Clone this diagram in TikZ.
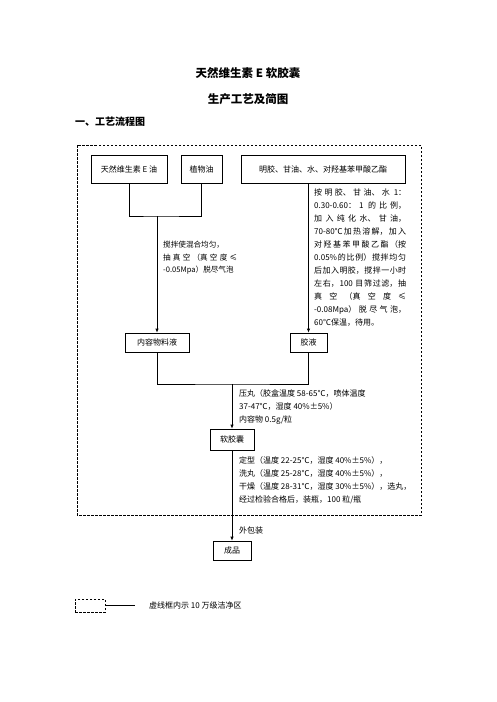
\documentclass[tikz,border=0pt]{standalone}
\usepackage{fontspec}
\newfontfamily\cjk{Noto Sans CJK SC}
\usetikzlibrary{positioning}
\usetikzlibrary{arrows.meta}
\XeTeXlinebreaklocale "zh"
\XeTeXlinebreakskip=0pt plus 1pt
\tolerance=10000
\hbadness=10000

\begin{document}
\begin{tikzpicture}[x=1pt, y=-1pt,
    box/.style={draw, rectangle, line width=0.7pt, inner sep=0pt, font=\cjk\fontsize{8}{10}\selectfont},
    note/.style={anchor=north west, inner sep=0pt, font=\cjk\fontsize{8}{13}\selectfont},
    line/.style={line width=0.7pt},
    >={Latex[length=4pt,width=3.5pt]}]
    \useasboundingbox (0,0) rectangle (496,702);

    % titles
    \node[font=\cjk\bfseries\fontsize{11.5}{12}\selectfont] (title) at (248,73) {天然维生素 E 软胶囊};
    \node[font=\cjk\bfseries\fontsize{11.5}{12}\selectfont] (subtitle) at (248,99) {生产工艺及简图};
    \node[font=\cjk\bfseries\fontsize{10}{12}\selectfont, anchor=west, inner sep=0pt] (section) at (75,122) {一、工艺流程图};

    % clean area
    \draw[line, dash pattern=on 2.5pt off 1.5pt] (77,145) rectangle (421,515);

    % boxes
    \node[box, minimum width=76pt, minimum height=28pt] (vitamin) at (129,169) {天然维生素 E 油};
    \node[box, minimum width=41pt, minimum height=28pt] (plantoil) at (201.5,169) {植物油};
    \node[box, minimum width=164pt, minimum height=28pt] (gelatin) at (323,169) {明胶、甘油、水、对羟基苯甲酸乙酯};
    \node[box, minimum width=64pt, minimum height=19pt] (filling) at (157,342.5) {内容物料液};
    \node[box, minimum width=37pt, minimum height=19pt] (gelliquid) at (308.5,342.5) {胶液};
    \node[box, minimum width=44pt, minimum height=21pt] (capsule) at (232,439.5) {软胶囊};
    \node[box, minimum width=38pt, minimum height=19pt] (product) at (232,550.5) {成品};

    \coordinate (mixtop) at (157,216);
    \coordinate (mixbottom) at (232,384);

    \draw[line] (vitamin.south) |- (mixtop) -| (plantoil.south);
    \draw[line,->] (mixtop) -- (filling.north);
    \draw[line,->] (gelliquid.north |- gelatin.south) -- (gelliquid.north);
    \draw[line] (filling.south) |- (mixbottom) -| (gelliquid.south);
    \draw[line,->] (mixbottom) -- (capsule.north);
    \draw[line,->] (capsule.south) -- (product.north);

    % notes
    \node[note, text width=74pt, align=justify, font=\cjk\fontsize{7.6}{12.5}\selectfont] (mixnote) at (163,241)
        {搅拌使混合均匀，\\抽真空（真空度≤\linebreak -0.05Mpa）脱尽气泡};
    \node[note, text width=92pt, align=justify] (gelnote) at (314,189)
        {按明胶、甘油、水 1：\linebreak 0.30-0.60：1 的比例，\linebreak 加入纯化水、甘油，\linebreak 70-80℃加热溶解，加入\linebreak 对羟基苯甲酸乙酯（按\linebreak 0.05\%的比例）搅拌均匀\linebreak 后加入明胶，搅拌一小时\linebreak 左右，100 目筛过滤，抽\linebreak 真空（真空度≤\linebreak -0.08Mpa）脱尽气泡，\linebreak 60℃保温，待用。};
    \node[note, align=left] (pressnote) at (239,389)
        {压丸（胶盒温度 58-65℃，喷体温度\\37-47℃，湿度 40\%±5\%）\\内容物 0.5g/粒};
    \node[note, align=left] (dryingnote) at (239,456)
        {定型（温度 22-25℃，湿度 40\%±5\%），\\洗丸（温度 25-28℃，湿度 40\%±5\%），\\干燥（温度 28-31℃，湿度 30\%±5\%），选丸，\\经过检验合格后，装瓶，100 粒/瓶};
    \node[note, anchor=west] (packnote) at (239,530) {外包装};

    % legend
    \node[draw, line width=0.7pt, dash pattern=on 2.5pt off 1.5pt, minimum width=30pt, minimum height=13pt, inner sep=0pt] (legendbox) at (90,605.5) {};
    \coordinate (legendend) at (135,605.5);
    \draw[line] (legendbox.east) -- (legendend);
    \node[note, anchor=west] (legendtext) at (149,605.5) {虚线框内示 10 万级洁净区};
\end{tikzpicture}
\end{document}
